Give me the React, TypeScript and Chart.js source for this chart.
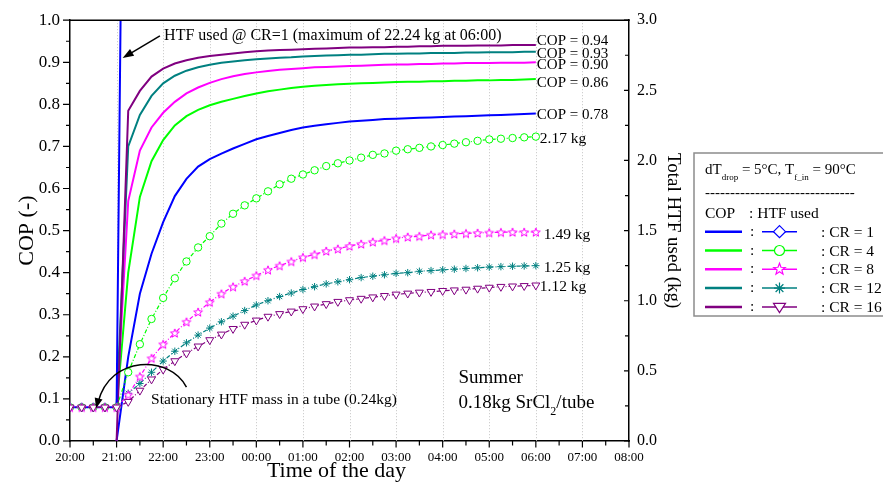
import React, { useEffect, useRef } from "react";
import { Chart, registerables } from "chart.js";

Chart.register(...registerables);

// ---------------- data ----------------
const TIMES = [
  "20:00", "20:15", "20:30", "20:45",
  "21:00", "21:15", "21:30", "21:45",
  "22:00", "22:15", "22:30", "22:45",
  "23:00", "23:15", "23:30", "23:45",
  "00:00", "00:15", "00:30", "00:45",
  "01:00", "01:15", "01:30", "01:45",
  "02:00", "02:15", "02:30", "02:45",
  "03:00", "03:15", "03:30", "03:45",
  "04:00", "04:15", "04:30", "04:45",
  "05:00", "05:15", "05:30", "05:45",
  "06:00",
];
const X_TICK_LABELS = ["20:00", "21:00", "22:00", "23:00", "00:00", "01:00", "02:00", "03:00", "04:00", "05:00", "06:00", "07:00", "08:00"];
const CR_VALUES = [1, 4, 8, 12, 16];

// COP (left axis), 15-min samples from 21:00 to 06:00
const COP_CR1 = [0, 0.2, 0.35, 0.445, 0.52, 0.582, 0.623, 0.652, 0.67, 0.683, 0.695, 0.706, 0.717, 0.725, 0.732, 0.739, 0.745, 0.749, 0.753, 0.756, 0.759, 0.761, 0.763, 0.765, 0.766, 0.767, 0.768, 0.769, 0.77, 0.771, 0.772, 0.773, 0.774, 0.775, 0.776, 0.777, 0.778];
const COP_CR4 = [0.08, 0.4, 0.58, 0.665, 0.715, 0.75, 0.772, 0.787, 0.798, 0.806, 0.813, 0.82, 0.826, 0.831, 0.835, 0.839, 0.842, 0.844, 0.846, 0.848, 0.849, 0.85, 0.851, 0.852, 0.853, 0.854, 0.854, 0.855, 0.855, 0.856, 0.856, 0.857, 0.857, 0.858, 0.858, 0.859, 0.86];
const COP_CR8 = [0.08, 0.57, 0.69, 0.745, 0.78, 0.806, 0.826, 0.84, 0.851, 0.86, 0.867, 0.872, 0.876, 0.879, 0.882, 0.884, 0.886, 0.888, 0.889, 0.89, 0.891, 0.892, 0.893, 0.894, 0.895, 0.895, 0.896, 0.896, 0.897, 0.897, 0.898, 0.898, 0.898, 0.899, 0.899, 0.899, 0.9];
const COP_CR12 = [0.08, 0.7, 0.775, 0.82, 0.85, 0.868, 0.88, 0.888, 0.894, 0.899, 0.902, 0.905, 0.907, 0.909, 0.911, 0.912, 0.914, 0.915, 0.916, 0.917, 0.918, 0.918, 0.919, 0.92, 0.92, 0.921, 0.921, 0.922, 0.922, 0.922, 0.923, 0.923, 0.924, 0.924, 0.924, 0.925, 0.925];
const COP_CR16 = [0, 0.785, 0.832, 0.866, 0.885, 0.897, 0.905, 0.911, 0.915, 0.918, 0.921, 0.924, 0.926, 0.928, 0.929, 0.93, 0.931, 0.932, 0.933, 0.934, 0.935, 0.935, 0.936, 0.936, 0.937, 0.937, 0.938, 0.938, 0.939, 0.939, 0.939, 0.94, 0.94, 0.94, 0.941, 0.941, 0.941];

// Total HTF used in kg (right axis), 15-min samples from 20:00 to 06:00
const HTF_CR1 = [0.24, 0.24, 0.24, 0.24, 0.24, 8.3, 10.5, 12.0, 13.1, 14.0, 14.8, 15.5, 16.1, 16.6, 17.1, 17.5, 17.9, 18.3, 18.6, 18.9, 19.2, 19.5, 19.8, 20.0, 20.2, 20.4, 20.6, 20.8, 21.0, 21.15, 21.3, 21.45, 21.6, 21.7, 21.8, 21.9, 22.0, 22.05, 22.1, 22.17, 22.24];
const HTF_CR4 = [0.24, 0.24, 0.24, 0.24, 0.24, 0.49, 0.69, 0.87, 1.02, 1.16, 1.28, 1.38, 1.46, 1.55, 1.62, 1.68, 1.73, 1.78, 1.83, 1.87, 1.9, 1.93, 1.96, 1.98, 2.0, 2.02, 2.04, 2.05, 2.07, 2.08, 2.09, 2.1, 2.11, 2.12, 2.13, 2.14, 2.15, 2.155, 2.16, 2.165, 2.17];
const HTF_CR8 = [0.24, 0.24, 0.24, 0.24, 0.24, 0.33, 0.46, 0.59, 0.69, 0.77, 0.85, 0.92, 0.99, 1.05, 1.1, 1.14, 1.18, 1.22, 1.25, 1.28, 1.31, 1.33, 1.355, 1.37, 1.39, 1.405, 1.42, 1.43, 1.445, 1.455, 1.46, 1.47, 1.473, 1.477, 1.48, 1.483, 1.486, 1.488, 1.49, 1.49, 1.49];
const HTF_CR12 = [0.24, 0.24, 0.24, 0.24, 0.24, 0.34, 0.41, 0.49, 0.57, 0.64, 0.7, 0.755, 0.805, 0.85, 0.89, 0.93, 0.97, 1.0, 1.03, 1.055, 1.08, 1.1, 1.12, 1.135, 1.15, 1.165, 1.175, 1.185, 1.195, 1.2, 1.21, 1.215, 1.22, 1.225, 1.23, 1.235, 1.24, 1.243, 1.246, 1.248, 1.25];
const HTF_CR16 = [0.24, 0.24, 0.24, 0.24, 0.24, 0.28, 0.36, 0.44, 0.51, 0.57, 0.625, 0.675, 0.72, 0.76, 0.8, 0.83, 0.86, 0.887, 0.906, 0.924, 0.941, 0.96, 0.977, 0.993, 1.005, 1.015, 1.025, 1.035, 1.045, 1.052, 1.059, 1.064, 1.071, 1.075, 1.08, 1.087, 1.094, 1.1, 1.103, 1.106, 1.11];

const COP_END_LABELS = ["COP = 0.78", "COP = 0.86", "COP = 0.90", "COP = 0.93", "COP = 0.94"];
const HTF_END_LABELS = ["", "2.17 kg", "1.49 kg", "1.25 kg", "1.12 kg"];

// ---------------- styles ----------------
const FONT = "'Liberation Serif', 'Times New Roman', Times, serif";
const COLORS = ["#0000ff", "#00ff00", "#ff00ff", "#008080", "#800080"];
const MARKERS = ["rectRot", "circle", "star5", "star", "triangle"];
const COP_LABEL_DY = [1, 4, 3, 2, -4];
const HTF_LABEL_DX = [0, 4, 8, 8, 4];
const HTF_LABEL_DY = [0, 2, 3, 2, 2];

const COP_SERIES = [COP_CR1, COP_CR4, COP_CR8, COP_CR12, COP_CR16];
const HTF_SERIES = [HTF_CR1, HTF_CR4, HTF_CR8, HTF_CR12, HTF_CR16];

function toHours(t: string): number {
  const [h, m] = t.split(":").map(Number);
  return ((h - 20 + 24) % 24) + m / 60;
}

function starPath(ctx: CanvasRenderingContext2D, x: number, y: number, r: number) {
  ctx.beginPath();
  for (let k = 0; k < 10; k++) {
    const rr = k % 2 === 0 ? r : r * 0.42;
    const a = -Math.PI / 2 + (k * Math.PI) / 5;
    const px = x + rr * Math.cos(a);
    const py = y + rr * Math.sin(a);
    if (k === 0) ctx.moveTo(px, py);
    else ctx.lineTo(px, py);
  }
  ctx.closePath();
}

function makeStarCanvas(color: string, r: number): HTMLCanvasElement {
  const size = Math.ceil(r * 2 + 4);
  const c = document.createElement("canvas");
  c.width = size;
  c.height = size;
  const g = c.getContext("2d")!;
  starPath(g, size / 2, size / 2 + 0.5, r);
  g.fillStyle = "#ffffff";
  g.fill();
  g.strokeStyle = color;
  g.lineWidth = 1;
  g.stroke();
  return c;
}

function drawMarker(ctx: CanvasRenderingContext2D, kind: string, x: number, y: number, r: number, color: string) {
  ctx.save();
  ctx.strokeStyle = color;
  ctx.fillStyle = "#ffffff";
  ctx.lineWidth = 1.2;
  ctx.setLineDash([]);
  ctx.beginPath();
  if (kind === "rectRot") {
    ctx.moveTo(x, y - r);
    ctx.lineTo(x + r, y);
    ctx.lineTo(x, y + r);
    ctx.lineTo(x - r, y);
    ctx.closePath();
    ctx.fill();
    ctx.stroke();
  } else if (kind === "circle") {
    ctx.arc(x, y, r, 0, Math.PI * 2);
    ctx.fill();
    ctx.stroke();
  } else if (kind === "triangle") {
    ctx.moveTo(x - r, y - r * 0.6);
    ctx.lineTo(x + r, y - r * 0.6);
    ctx.lineTo(x, y + r * 0.95);
    ctx.closePath();
    ctx.fill();
    ctx.stroke();
  } else if (kind === "star") {
    for (let k = 0; k < 4; k++) {
      const a = (k * Math.PI) / 4;
      ctx.moveTo(x - r * Math.cos(a), y - r * Math.sin(a));
      ctx.lineTo(x + r * Math.cos(a), y + r * Math.sin(a));
    }
    ctx.stroke();
  } else if (kind === "star5") {
    starPath(ctx, x, y, r);
    ctx.fill();
    ctx.stroke();
  }
  ctx.restore();
}

function arrowHead(ctx: CanvasRenderingContext2D, tx: number, ty: number, dx: number, dy: number, len: number, half: number) {
  const d = Math.hypot(dx, dy);
  const ux = dx / d;
  const uy = dy / d;
  const bx = tx - ux * len;
  const by = ty - uy * len;
  ctx.beginPath();
  ctx.moveTo(tx, ty);
  ctx.lineTo(bx - uy * half, by + ux * half);
  ctx.lineTo(bx + uy * half, by - ux * half);
  ctx.closePath();
  ctx.fill();
}

function drawRich(ctx: CanvasRenderingContext2D, parts: [string, number, number][], x: number, y: number) {
  let cx = x;
  for (const [t, size, dy] of parts) {
    ctx.font = `${size}px ${FONT}`;
    ctx.fillText(t, cx, y + dy);
    cx += ctx.measureText(t).width;
  }
}

// annotation anchors in data units (hours after 20:00, COP axis)
const NOTE_CR1 = { text: "HTF used @ CR=1 (maximum of 22.24 kg at 06:00)", t: 2.02, v: 0.964 };
const ARROW_CR1 = { t0: 1.93, v0: 0.963, t1: 1.13, v1: 0.91 };
const NOTE_STATIONARY = { text: "Stationary HTF mass in a tube (0.24kg)", t: 1.74, v: 0.098 };
const ARROW_STATIONARY = [
  [2.5, 0.128],
  [2.14, 0.205],
  [0.86, 0.205],
  [0.56, 0.078],
];
const NOTE_SUMMER = { t: 8.34, v1: 0.152, v2: 0.093 };

const decorPlugin = {
  id: "decor",
  beforeDatasetsDraw(chart: any) {
    const { ctx, chartArea: ca, scales } = chart;
    const xs = scales.x;
    ctx.save();
    ctx.strokeStyle = "#c4c4c4";
    ctx.lineWidth = 1;
    ctx.setLineDash([1, 2]);
    for (let h = 1; h < X_TICK_LABELS.length - 1; h++) {
      const px = Math.round(xs.getPixelForValue(h)) + 0.5;
      ctx.beginPath();
      ctx.moveTo(px, ca.top);
      ctx.lineTo(px, ca.bottom);
      ctx.stroke();
    }
    ctx.restore();
  },
  afterDraw(chart: any) {
    const { ctx, chartArea: ca, scales } = chart;
    const xs = scales.x;
    const ys = scales.y;
    const ys2 = scales.y2;
    const X = (t: number) => xs.getPixelForValue(t);
    const Y = (v: number) => ys.getPixelForValue(v);
    ctx.save();
    ctx.setLineDash([]);
    ctx.strokeStyle = "#000";
    ctx.fillStyle = "#000";

    // top frame
    ctx.lineWidth = 1.5;
    ctx.beginPath();
    ctx.moveTo(ca.left - 0.75, ca.top);
    ctx.lineTo(ca.right + 0.75, ca.top);
    ctx.stroke();

    // ticks
    ctx.lineWidth = 1.2;
    ctx.beginPath();
    for (let i = 0; i <= 24; i++) {
      const px = X(i / 2);
      const len = i % 2 === 0 ? 6.5 : 4.5;
      ctx.moveTo(px, ca.bottom);
      ctx.lineTo(px, ca.bottom + len);
    }
    for (let i = 0; i <= 20; i++) {
      const py = Y(i / 20);
      const len = i % 2 === 0 ? 7 : 4;
      ctx.moveTo(ca.left - len, py);
      ctx.lineTo(ca.left, py);
    }
    for (let i = 0; i <= 12; i++) {
      const py = ys2.getPixelForValue(i / 4);
      const len = i % 2 === 0 ? 5 : 4;
      ctx.moveTo(ca.right - len, py);
      ctx.lineTo(ca.right, py);
    }
    ctx.stroke();

    // bottom axis title
    ctx.font = `22px ${FONT}`;
    ctx.textAlign = "center";
    ctx.textBaseline = "middle";
    ctx.fillText("Time of the day", (ca.left + ca.right) / 2 - 13, 471);

    // end-of-line labels
    ctx.textAlign = "left";
    ctx.font = `15px ${FONT}`;
    const lastT = toHours(TIMES[TIMES.length - 1]);
    const lastX = X(lastT);
    COP_SERIES.forEach((vals, i) => {
      ctx.fillText(COP_END_LABELS[i], lastX + 1, Y(vals[vals.length - 1]) + COP_LABEL_DY[i]);
    });
    ctx.font = `15.5px ${FONT}`;
    HTF_SERIES.forEach((vals, i) => {
      if (!HTF_END_LABELS[i]) return;
      ctx.fillText(HTF_END_LABELS[i], lastX + HTF_LABEL_DX[i], ys2.getPixelForValue(vals[vals.length - 1]) + HTF_LABEL_DY[i]);
    });

    // CR=1 note and arrow
    ctx.font = `16px ${FONT}`;
    ctx.fillText(NOTE_CR1.text, X(NOTE_CR1.t), Y(NOTE_CR1.v));
    {
      const x0 = X(ARROW_CR1.t0), y0 = Y(ARROW_CR1.v0), x1 = X(ARROW_CR1.t1), y1 = Y(ARROW_CR1.v1);
      ctx.lineWidth = 1.5;
      ctx.beginPath();
      ctx.moveTo(x0, y0);
      ctx.lineTo(x1 + (x0 - x1) * 0.2, y1 + (y0 - y1) * 0.2);
      ctx.stroke();
      arrowHead(ctx, x1, y1, x1 - x0, y1 - y0, 11, 4);
    }

    // stationary note and curved arrow
    ctx.font = `15.5px ${FONT}`;
    ctx.fillText(NOTE_STATIONARY.text, X(NOTE_STATIONARY.t), Y(NOTE_STATIONARY.v));
    {
      const p = ARROW_STATIONARY.map(([t, v]) => [X(t), Y(v)]);
      ctx.lineWidth = 1.5;
      ctx.beginPath();
      ctx.moveTo(p[0][0], p[0][1]);
      ctx.bezierCurveTo(p[1][0], p[1][1], p[2][0], p[2][1], p[3][0] + 2, p[3][1] - 6);
      ctx.stroke();
      arrowHead(ctx, p[3][0], p[3][1], p[3][0] - p[2][0], p[3][1] - p[2][1], 10, 4);
    }

    // Summer note
    ctx.textBaseline = "alphabetic";
    drawRich(ctx, [["Summer", 19, 0]], X(NOTE_SUMMER.t), Y(NOTE_SUMMER.v1) + 6);
    drawRich(ctx, [["0.18kg SrCl", 19, 0], ["2", 12, 7], ["/tube", 19, 0]], X(NOTE_SUMMER.t), Y(NOTE_SUMMER.v2) + 6);

    // legend box
    const bx = ca.right + 65;
    const by = 153;
    ctx.strokeStyle = "#8c8c8c";
    ctx.lineWidth = 1.5;
    ctx.strokeRect(bx, by, 260, 163);
    ctx.fillStyle = "#000";
    drawRich(ctx, [["dT", 15, 0], ["drop", 9, 6], [" = 5°C, T", 15, 0], ["f_in", 9, 6], [" = 90°C", 15, 0]], bx + 11, by + 21);
    ctx.font = `15px ${FONT}`;
    ctx.fillText("------------------------------", bx + 11, by + 44);
    ctx.font = `15.5px ${FONT}`;
    ctx.fillText("COP", bx + 11, by + 65);
    ctx.fillText(": HTF used", bx + 55, by + 65);
    for (let i = 0; i < CR_VALUES.length; i++) {
      const ry = by + 78.7 + i * 18.8;
      ctx.strokeStyle = COLORS[i];
      ctx.lineWidth = 2.5;
      ctx.beginPath();
      ctx.moveTo(bx + 11, ry);
      ctx.lineTo(bx + 48, ry);
      ctx.stroke();
      ctx.fillStyle = "#000";
      ctx.textBaseline = "middle";
      ctx.font = `15.5px ${FONT}`;
      ctx.fillText(":", bx + 56, ry);
      ctx.lineWidth = 1.5;
      ctx.beginPath();
      ctx.moveTo(bx + 68, ry);
      ctx.lineTo(bx + 103, ry);
      ctx.stroke();
      drawMarker(ctx, MARKERS[i], bx + 85.5, ry, i === 3 ? 5.5 : i === 1 ? 5 : 6, COLORS[i]);
      ctx.fillStyle = "#000";
      ctx.fillText(`: CR = ${CR_VALUES[i]}`, bx + 127, ry + 1);
    }
    ctx.restore();
  },
};

export default function App() {
  const canvasRef = useRef<HTMLCanvasElement | null>(null);

  useEffect(() => {
    const canvas = canvasRef.current;
    if (!canvas) return;
    const starSmall = makeStarCanvas(COLORS[2], 4.6);

    const copSets = COP_SERIES.map((vals, i) => ({
      label: `COP CR=${CR_VALUES[i]}`,
      yAxisID: "y",
      data: TIMES.slice(TIMES.length - vals.length).map((t, k) => ({ x: toHours(t), y: vals[k] })),
      borderColor: COLORS[i],
      borderWidth: 2,
      pointRadius: 0,
      tension: 0,
      fill: false,
    }));

    const htfSets = HTF_SERIES.map((vals, i) => ({
      label: `HTF CR=${CR_VALUES[i]}`,
      yAxisID: "y2",
      data: TIMES.map((t, k) => ({ x: toHours(t), y: vals[k] })),
      borderColor: COLORS[i],
      borderWidth: i === 0 ? 2 : 1.2,
      borderDash: i === 0 ? [] : [4, 2, 1, 2],
      pointStyle: MARKERS[i] === "star5" ? starSmall : MARKERS[i],
      pointRotation: MARKERS[i] === "triangle" ? 180 : 0,
      pointRadius: MARKERS[i] === "triangle" ? 4.6 : MARKERS[i] === "rectRot" ? 4.5 : 3.7,
      pointBorderColor: COLORS[i],
      pointBackgroundColor: "#ffffff",
      pointBorderWidth: 1,
      tension: 0,
      fill: false,
    }));

    // draw order: first dataset on top
    const datasets = [htfSets[4], htfSets[2], htfSets[3], htfSets[1], htfSets[0], ...copSets.slice().reverse()];

    const chart = new Chart(canvas, {
      type: "line",
      data: { datasets } as any,
      plugins: [decorPlugin],
      options: {
        responsive: false,
        animation: false,
        devicePixelRatio: 1,
        layout: { padding: { top: 18, left: 0, right: 199, bottom: 0 } },
        plugins: { legend: { display: false }, tooltip: { enabled: false } },
        scales: {
          x: {
            type: "linear",
            position: "bottom",
            min: 0,
            max: 12,
            afterFit: (s: any) => {
              s.height = 48;
            },
            grid: { display: false, drawTicks: false },
            border: { display: true, color: "#000", width: 1.5 },
            ticks: {
              stepSize: 1,
              autoSkip: false,
              maxRotation: 0,
              padding: 9,
              color: "#000",
              font: { family: FONT, size: 13 },
              callback: (v: any) => X_TICK_LABELS[Math.round(Number(v))] ?? "",
            },
          },
          y: {
            type: "linear",
            position: "left",
            min: 0,
            max: 1,
            afterFit: (s: any) => {
              s.width = 70;
            },
            grid: { display: false, drawTicks: false },
            border: { display: true, color: "#000", width: 1.5 },
            ticks: {
              stepSize: 0.1,
              autoSkip: false,
              padding: 10,
              color: "#000",
              font: { family: FONT, size: 17 },
              callback: (v: any) => Number(v).toFixed(1),
            },
            title: {
              display: true,
              text: "COP (-)",
              color: "#000",
              font: { family: FONT, size: 22 },
              padding: { top: 14, bottom: 0 },
            },
          },
          y2: {
            type: "linear",
            position: "right",
            min: 0,
            max: 3,
            afterFit: (s: any) => {
              s.width = 55;
            },
            grid: { display: false, drawTicks: false },
            border: { display: true, color: "#000", width: 1.5 },
            ticks: {
              stepSize: 0.5,
              autoSkip: false,
              padding: 8,
              color: "#000",
              font: { family: FONT, size: 16 },
              callback: (v: any) => Number(v).toFixed(1),
            },
            title: {
              display: true,
              text: "Total HTF used (kg)",
              color: "#000",
              font: { family: FONT, size: 19 },
              padding: { top: 0, bottom: 0 },
            },
          },
        },
      } as any,
    });

    return () => chart.destroy();
  }, []);

  return (
    <div style={{ position: "fixed", left: 0, top: 0, width: 883, height: 489, background: "#fff" }}>
      <canvas ref={canvasRef} width={883} height={489} style={{ display: "block" }} />
    </div>
  );
}
